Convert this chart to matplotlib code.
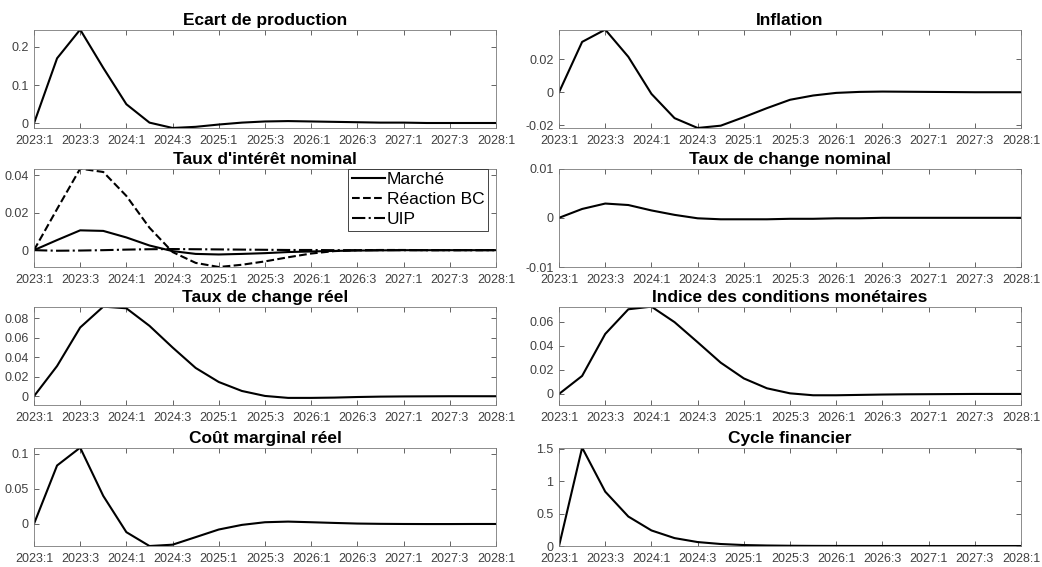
import matplotlib
matplotlib.use("Agg")
import matplotlib.pyplot as plt
from matplotlib.ticker import FuncFormatter

plt.rcParams['font.family'] = ['Liberation Sans', 'DejaVu Sans']

# trimestres 2023:1 .. 2028:1
tick_labels = ["2023:1", "2023:3", "2024:1", "2024:3", "2025:1", "2025:3",
               "2026:1", "2026:3", "2027:1", "2027:3", "2028:1"]
n_periods = 21

ecart = [0, 0.170, 0.245, 0.145, 0.050, 0.002, -0.012, -0.009, -0.003, 0.002,
         0.005, 0.006, 0.005, 0.004, 0.003, 0.002, 0.002, 0.001, 0.001, 0.001, 0.001]
inflation = [0, 0.0307, 0.0382, 0.0216, -0.001, -0.0158, -0.0218, -0.0204, -0.0152,
             -0.0097, -0.0046, -0.002, -0.0004, 0.0002, 0.0004, 0.0003, 0.0002,
             0.0001, 0.0, 0.0, 0.0]
taux_marche = [0, 0.0054, 0.0106, 0.0103, 0.0068, 0.0025, -0.0005, -0.002, -0.0023,
               -0.002, -0.0016, -0.001, -0.0007, -0.0004, -0.0002, -0.0001, 0, 0, 0, 0, 0]
taux_bc = [0, 0.022, 0.0436, 0.0418, 0.029, 0.012, -0.001, -0.0068, -0.009, -0.0078,
           -0.006, -0.0038, -0.0018, -0.0005, 0.0, 0.0001, 0.0001, 0, 0, 0, 0]
taux_uip = [0, -0.0003, -0.0002, 0.0, 0.0003, 0.0005, 0.0006, 0.0005, 0.0004, 0.0003,
            0.0002, 0.0001, 0.0001, 0, 0, 0, 0, 0, 0, 0, 0]
change_nominal = [0, 0.0018, 0.0029, 0.0026, 0.0015, 0.0006, -0.0001, -0.0003, -0.0003,
                  -0.0003, -0.0002, -0.0002, -0.0001, -0.0001, 0, 0, 0, 0, 0, 0, 0]
change_reel = [0, 0.031, 0.0705, 0.0919, 0.0902, 0.0722, 0.050, 0.029, 0.0146, 0.0054,
               0.0003, -0.0017, -0.0017, -0.0014, -0.0008, -0.0004, -0.0002, -0.0001, 0, 0, 0]
icm = [0, 0.015, 0.0499, 0.0704, 0.0726, 0.0597, 0.043, 0.026, 0.0129, 0.0047, 0.0005,
       -0.0011, -0.0011, -0.0008, -0.0005, -0.0003, -0.0002, -0.0001, 0, 0, 0]
cout_marginal = [0, 0.0835, 0.109, 0.040, -0.0118, -0.0316, -0.0297, -0.0189, -0.008,
                 -0.0014, 0.0024, 0.0033, 0.0024, 0.0014, 0.0005, 0.0001, -0.0001,
                 -0.0002, -0.0002, -0.0001, -0.0001]
cycle = [0, 1.515, 0.837, 0.454, 0.24, 0.122, 0.061, 0.031, 0.015, 0.008, 0.004, 0.002,
         0.001, 0.0005, 0.0002, 0.0001, 0, 0, 0, 0, 0]

x = list(range(n_periods))

panels = [
    ("Ecart de production", [ecart], [0, 0.1, 0.2], None),
    ("Inflation", [inflation], [-0.02, 0, 0.02], None),
    ("Taux d'intérêt nominal", [taux_marche, taux_bc, taux_uip], [0, 0.02, 0.04], None),
    ("Taux de change nominal", [change_nominal], [-0.01, 0, 0.01], (-0.01, 0.01)),
    ("Taux de change réel", [change_reel], [0, 0.02, 0.04, 0.06, 0.08], (-0.009, None)),
    ("Indice des conditions monétaires", [icm], [0, 0.02, 0.04, 0.06], (-0.0092, None)),
    ("Coût marginal réel", [cout_marginal], [0, 0.05, 0.1], None),
    ("Cycle financier", [cycle], [0, 0.5, 1, 1.5], None),
]
legend_labels = ["Marché", "Réaction BC", "UIP"]
styles = ["-", "--", "-."]

fig = plt.figure(figsize=(10.42, 5.67), dpi=100)
lefts = [0.0326, 0.5365]
bottoms = [0.7743, 0.5291, 0.2857, 0.0370]
w, h = 0.4434, 0.1735

fmt = FuncFormatter(lambda v, p: "%g" % round(v, 6))
box_col = "#262626"

for i, (title, series, yt, ylim) in enumerate(panels):
    r, c = divmod(i, 2)
    ax = fig.add_axes([lefts[c], bottoms[r], w, h])
    lines = []
    for s, ls in zip(series, styles):
        ln, = ax.plot(x, s, color="black", ls=ls, lw=1.5)
        lines.append(ln)
    lo = min(min(s) for s in series)
    hi = max(max(s) for s in series)
    if ylim is not None:
        lo = ylim[0] if ylim[0] is not None else lo
        hi = ylim[1] if ylim[1] is not None else hi
    ax.set_ylim(lo, hi)
    ax.set_xlim(0, n_periods - 1)
    ax.set_xticks(range(0, n_periods, 2))
    ax.set_xticklabels(tick_labels)
    ax.set_yticks(yt)
    ax.yaxis.set_major_formatter(fmt)
    ax.tick_params(direction="in", top=True, right=True, length=3.5, width=0.5,
                   colors=box_col, labelsize=9, labelcolor="#404040")
    ax.tick_params(axis="x", pad=5)
    ax.tick_params(axis="y", pad=4)
    for sp in ax.spines.values():
        sp.set_linewidth(0.6)
        sp.set_color("#7a7a7a")
    ax.set_title(title, fontsize=12.5, fontweight="bold", pad=3.5)
    if len(series) > 1:
        leg = ax.legend(lines, legend_labels, loc="upper right",
                        bbox_to_anchor=(0.982, 1.0), borderaxespad=0,
                        fontsize=12.5, handlelength=1.9, handletextpad=0.1,
                        labelspacing=0.28, borderpad=0.2, fancybox=False,
                        framealpha=1)
        leg.get_frame().set_edgecolor("#262626")
        leg.get_frame().set_linewidth(0.6)

fig.savefig("out.png", dpi=100)
